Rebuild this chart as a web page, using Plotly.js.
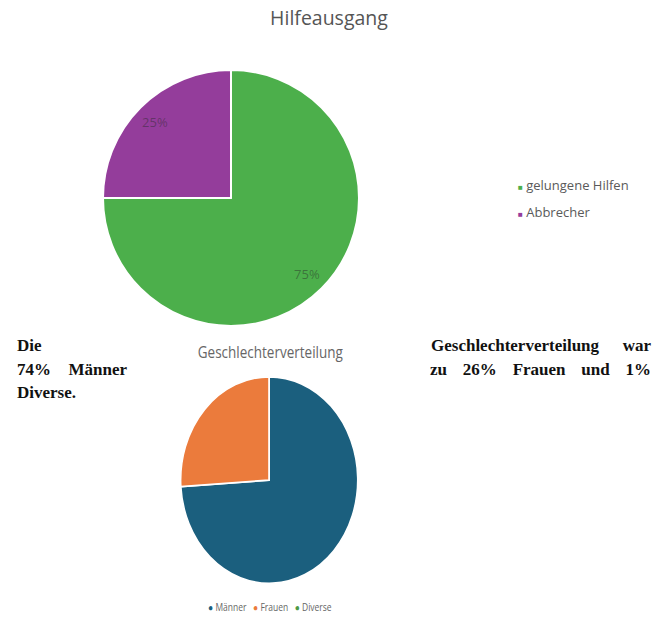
<!DOCTYPE html>
<html><head><meta charset="utf-8">
<script src="https://cdn.plot.ly/plotly-3.0.1.min.js"></script>
<style>
html,body{margin:0;padding:0;background:#fff;width:656px;height:617px;overflow:hidden;}
#top{position:absolute;left:0;top:0;width:656px;height:330px;overflow:hidden;}
#bottom{position:absolute;left:0;top:340px;width:656px;height:240px;transform-origin:0 0;transform:scaleY(1.167);}
.t{position:absolute;font-family:"Liberation Serif","Times New Roman",serif;font-weight:bold;font-size:17px;line-height:22px;height:22px;color:#111;white-space:nowrap;}
.j{text-align:justify;text-align-last:justify;white-space:normal;}
</style></head><body>
<div id="top"></div>
<div id="bottom"></div>
<div class="t" style="left:17px;top:335px;">Die</div>
<div class="t j" style="left:17px;top:359px;width:110px;">74% Männer</div>
<div class="t" style="left:17px;top:382px;">Diverse.</div>
<div class="t j" style="left:431px;top:335px;width:220px;">Geschlechterverteilung war</div>
<div class="t j" style="left:430px;top:359px;width:221px;">zu 26% Frauen und 1%</div>
<script>
const topTitle = 'Hilfeausgang';
const topLabels = ['gelungene Hilfen', 'Abbrecher'];
const topValues = [75, 25];
const topColors = ['#4caf4b', '#943d9b'];

const bottomTitle = 'Geschlechterverteilung';
const bottomLabels = ['Männer', 'Frauen', 'Diverse'];
const bottomValues = [74, 26, 0];
const bottomColors = ['#1b5f7e', '#eb7b3c', '#4e9a45'];

const W = 656;
const TH = 460;
const topDomain = {x: [103 / W, 359 / W], y: [134 / TH, 390 / TH]};
const topLegendAnn = topLabels.map((lab, i) => ({
  xref: 'paper', yref: 'paper', x: 516 / W, xanchor: 'left',
  y: 1 - (185 + 27 * i) / TH, yanchor: 'middle', showarrow: false,
  text: '<span style="color:' + topColors[i] + ';font-size:8px">■</span> ' + lab,
  font: {family: 'Open Sans', size: 13, color: '#5a5a5a'}
}));

Plotly.newPlot('top', [{
  type: 'pie', labels: topLabels, values: topValues, sort: false,
  direction: 'clockwise', rotation: 0, domain: topDomain,
  marker: {colors: topColors, line: {color: '#ffffff', width: 2}},
  textinfo: 'none', hoverinfo: 'none'
}, {
  // transparent ring that only carries the percentage labels near the rim
  type: 'pie', labels: topLabels, values: topValues, sort: false,
  direction: 'clockwise', rotation: 0, domain: topDomain, hole: 0.68,
  marker: {colors: topColors.map(() => 'rgba(0,0,0,0)'), line: {width: 0}},
  textinfo: 'percent', textposition: 'inside', insidetextorientation: 'horizontal',
  textfont: {family: 'Open Sans', size: 13, color: 'rgba(40,40,40,0.45)'},
  hoverinfo: 'none', showlegend: false
}], {
  width: W, height: TH, margin: {l: 0, r: 0, t: 0, b: 0},
  paper_bgcolor: '#ffffff', showlegend: false,
  title: {text: topTitle, x: 329 / W, xanchor: 'center', y: 1 - 18 / TH, yanchor: 'middle',
          font: {family: 'Open Sans', size: 19.5, color: '#555555', weight: 500}},
  annotations: topLegendAnn
}, {displayModeBar: false, staticPlot: true});

const BH = 240;
const sep = '\u00a0\u00a0\u00a0';
const bottomLegendText = bottomLabels.map((lab, i) =>
  '<span style="color:' + bottomColors[i] + '">●</span>\u00a0' + lab).join(sep);

Plotly.newPlot('bottom', [{
  type: 'pie', labels: bottomLabels, values: bottomValues, sort: false,
  direction: 'clockwise', rotation: 0,
  domain: {x: [180.7 / W, 357.7 / W], y: [31.5 / BH, 208.5 / BH]},
  marker: {colors: bottomColors, line: {color: '#ffffff', width: 1.5}},
  textinfo: 'none', hoverinfo: 'none'
}], {
  width: W, height: BH, margin: {l: 0, r: 0, t: 0, b: 0},
  paper_bgcolor: 'rgba(0,0,0,0)', showlegend: false,
  title: {text: bottomTitle, x: 270.3 / W, xanchor: 'center', y: 1 - 10.5 / BH, yanchor: 'middle',
          font: {family: 'Open Sans', size: 13.5, color: '#666666'}},
  annotations: [{xref: 'paper', yref: 'paper', x: 270 / W, xanchor: 'center',
    y: 1 - 228.8 / BH, yanchor: 'middle', showarrow: false, text: bottomLegendText,
    font: {family: 'Open Sans', size: 8.5, color: '#666666'}}]
}, {displayModeBar: false, staticPlot: true});
</script>
</body></html>
